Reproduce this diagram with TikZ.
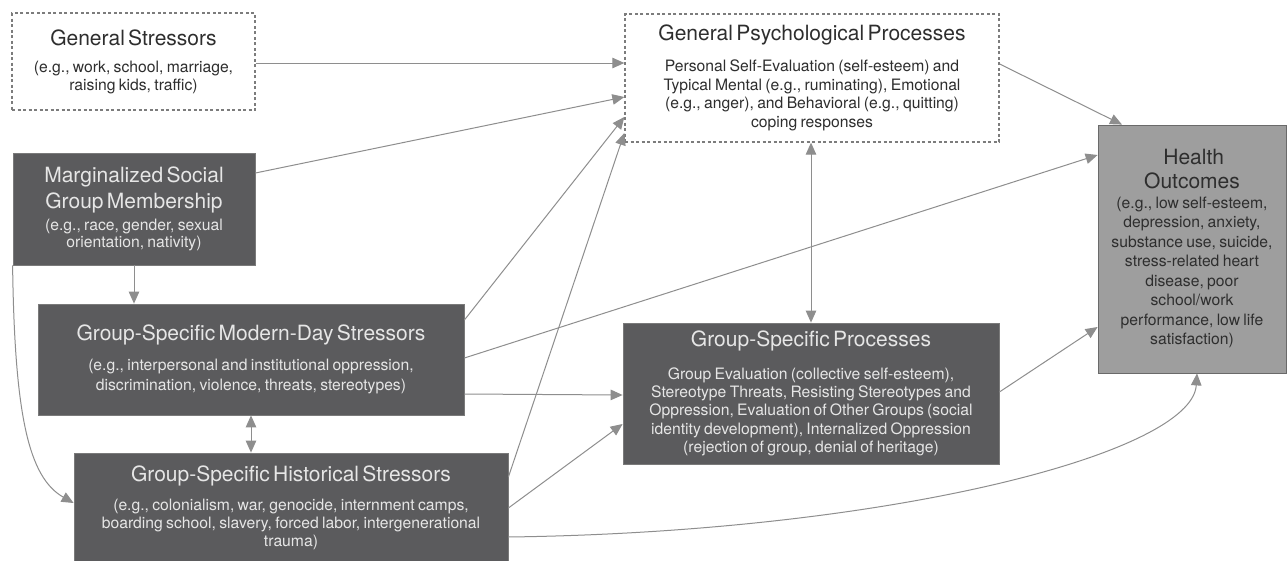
\documentclass[tikz,border=0pt]{standalone}
\usepackage{fontspec}
\setmainfont{TeX Gyre Heros}
\usetikzlibrary{arrows.meta,calc}
\definecolor{cDark}{HTML}{5B5B5D}
\definecolor{cDarkEdge}{HTML}{7A7A7A}
\definecolor{cLightText}{HTML}{E6E6E6}
\definecolor{cHealth}{HTML}{9E9E9E}
\definecolor{cHealthEdge}{HTML}{6A6A6A}
\definecolor{cArrow}{HTML}{8E8E8E}
\definecolor{cDash}{HTML}{7C7C7C}
\definecolor{cInk}{HTML}{2E2E2E}
\newcommand{\ttlf}[1][26]{\fontsize{21}{#1}\selectfont}
\newcommand{\bdyf}[1][18.5]{\fontsize{15.7}{#1}\selectfont}
\begin{document}
\begin{tikzpicture}[x=1pt,y=-1pt,
  boxbase/.style={rectangle, inner sep=0pt, align=center, anchor=center},
  darkbox/.style={boxbase, fill=cDark, draw=cDarkEdge, line width=0.8pt, text=cLightText},
  dashbox/.style={boxbase, fill=white, draw=cDash, dash pattern=on 3pt off 2.5pt, line width=1.3pt, text=cInk},
  healthbox/.style={boxbase, fill=cHealth, draw=cHealthEdge, line width=0.8pt, text=cInk},
  conn/.style={draw=cArrow, line width=1pt, -{Triangle[length=12pt,width=10.5pt]}},
  biconn/.style={draw=cArrow, line width=1pt, {Triangle[length=12pt,width=10.5pt]}-{Triangle[length=12pt,width=10.5pt]}}
]
\useasboundingbox (0,0) rectangle (1288,560);
\fill[white] (0,0) rectangle (1288,560);

\node[dashbox, minimum width=243, minimum height=97, text width=239] (gs) at (133.5,61.5)
  {{\ttlf General Stressors\par}\vspace{9pt}{\bdyf[18] (e.g., work, school, marriage,\\ raising kids, traffic)\par}};

\node[darkbox, minimum width=242, minimum height=112, text width=238] (marg) at (134,209)
  {{\ttlf Marginalized Social\\ Group Membership\par}\vspace{4pt}{\bdyf[17.5] (e.g., race, gender, sexual\\ orientation, nativity)\par}};

\node[darkbox, minimum width=426, minimum height=111, text width=420] (modern) at (251,359.5)
  {{\ttlf Group-Specific Modern-Day Stressors\par}\vspace{10pt}{\bdyf[20] (e.g., interpersonal and institutional oppression,\\ discrimination, violence, threats, stereotypes)\par}};

\node[darkbox, minimum width=434, minimum height=109, text width=430] (hist) at (291,507.5)
  {{\ttlf Group-Specific Historical Stressors\par}\vspace{11pt}{\bdyf[18] (e.g., colonialism, war, genocide, internment camps,\\ boarding school, slavery, forced labor, intergenerational\\ trauma)\par}};

\node[dashbox, minimum width=374, minimum height=128, text width=370] (gpp) at (812,78)
  {{\ttlf General Psychological Processes\par}\vspace{12pt}{\bdyf[18.7] Personal Self-Evaluation (self-esteem) and\\ Typical Mental (e.g., ruminating), Emotional\\ (e.g., anger), and Behavioral (e.g., quitting)\\ coping responses\par}};

\node[darkbox, minimum width=376, minimum height=141, text width=372] (gsp) at (811,393.5)
  {{\ttlf Group-Specific Processes\par}\vspace{14pt}{\bdyf[18.3] Group Evaluation (collective self-esteem),\\ Stereotype Threats, Resisting Stereotypes and\\ Oppression, Evaluation of Other Groups (social\\ identity development), Internalized Oppression\\ (rejection of group, denial of heritage)\par}};

\node[healthbox, minimum width=188, minimum height=248, text width=186] (health) at (1192,249)
  {{\ttlf[24] Health\\ Outcomes\par}\vspace{0pt}{\bdyf[19.5] (e.g., low self-esteem,\\ depression, anxiety,\\ substance use, suicide,\\ stress-related heart\\ disease, poor\\ school/work\\ performance, low life\\ satisfaction)\par}};

% connectors
\draw[conn] ($(gs.east)+(0,1.5)$) -- ($(gpp.west)+(0,-15)$);
\draw[conn] ($(marg.east)+(0,-36)$) -- ($(gpp.west)+(0,19)$);
\draw[conn] ($(modern.east)+(0,-39.5)$) -- ($(gpp.west)+(0,39)$);
\draw[conn] ($(hist.east)+(0,-30.5)$) -- ($(gpp.west)+(0,55)$);
\draw[conn] ($(modern.east)+(0,-1.5)$) -- ($(health.west)+(0,-94)$);
\draw[conn] ($(modern.east)+(0,34.5)$) -- ($(gsp.west)+(0,1.5)$);
\draw[conn] ($(hist.east)+(0,0.5)$) -- ($(gsp.west)+(0,30.5)$);
\draw[conn] ($(hist.east)+(0,29.5)$) .. controls ($(hist.east)+(380,24.5)$) and ($(health.south)+(0,80)$) .. ($(health.south)+(5,0)$);
\draw[conn] ($(gpp.east)+(0,-14)$) -- ($(health.north)+(-70,0)$);
\draw[conn] ($(gsp.east)+(0,-1.5)$) -- ($(health.west)+(0,78)$);
\draw[biconn] (gsp.north |- gpp.south) -- (gsp.north);
\draw[conn] (marg.south) -- (marg.south |- modern.north);
\draw[biconn] (modern.south) -- (modern.south |- hist.north);
\draw[conn] (marg.south west) .. controls ($(marg.south west)+(2,150)$) and ($(hist.west)+(-45,-30)$) .. ($(hist.west)+(0,-4.5)$);
\end{tikzpicture}
\end{document}
